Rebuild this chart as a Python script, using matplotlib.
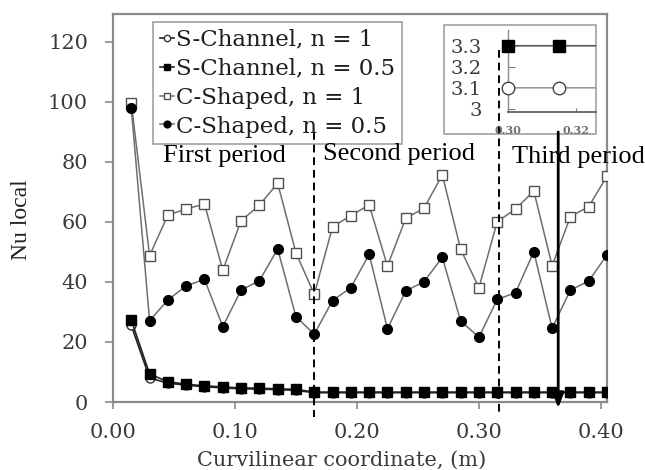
import matplotlib
matplotlib.use("Agg")
import matplotlib.pyplot as plt
from matplotlib.patches import Rectangle
import numpy as np

# ---- data ----
x_m = [0.015, 0.030, 0.045, 0.060, 0.075, 0.090, 0.105, 0.120, 0.135, 0.150,
       0.165, 0.180, 0.195, 0.210, 0.225, 0.240, 0.255, 0.270, 0.285, 0.300,
       0.315, 0.330, 0.345, 0.360, 0.375, 0.390, 0.405]
s_channel_n1 = [25.5, 8.0, 6.3, 5.6, 5.1, 4.7, 4.4, 4.3, 4.1, 3.9,
                3.1, 3.1, 3.1, 3.1, 3.1, 3.1, 3.1, 3.1, 3.1, 3.1,
                3.1, 3.1, 3.1, 3.1, 3.1, 3.1, 3.1]
s_channel_n05 = [27.3, 9.3, 6.8, 5.9, 5.4, 5.0, 4.7, 4.6, 4.4, 4.2,
                 3.3, 3.3, 3.3, 3.3, 3.3, 3.3, 3.3, 3.3, 3.3, 3.3,
                 3.3, 3.3, 3.3, 3.3, 3.3, 3.3, 3.3]
c_shaped_n1 = [99.6, 48.8, 62.3, 64.3, 66.0, 43.9, 60.4, 65.6, 72.9, 49.7,
               35.9, 58.4, 62.1, 65.7, 45.3, 61.2, 64.6, 75.7, 50.9, 38.1,
               60.1, 64.3, 70.3, 45.4, 61.8, 65.1, 75.3]
c_shaped_n05 = [97.9, 27.1, 34.0, 38.7, 40.9, 25.1, 37.3, 40.4, 51.0, 28.4,
                22.6, 33.8, 38.1, 49.2, 24.4, 37.0, 40.1, 48.2, 27.0, 21.6,
                34.2, 36.4, 50.1, 24.6, 37.3, 40.3, 49.0]
labels = ["S-Channel, n = 1", "S-Channel, n = 0.5",
          "C-Shaped, n = 1", "C-Shaped, n = 0.5"]
x_ticks = [0.00, 0.10, 0.20, 0.30, 0.40]
y_ticks = [0, 20, 40, 60, 80, 100, 120]
inset_x_ticks = [0.30, 0.32]
inset_y_ticks = [3.0, 3.1, 3.2, 3.3]
inset_y_labels = ["3", "3.1", "3.2", "3.3"]
period_names = ["First period", "Second period", "Third period"]

W, H = 645, 470
fig = plt.figure(figsize=(W / 100, H / 100), dpi=100)

def fx(px):
    return px / W

def fy(py):
    return 1 - py / H

ax = fig.add_axes([fx(113), fy(402), fx(607) - fx(113), fy(14) - fy(402)])

SER = ["DejaVu Serif"]
TIMES = ["Liberation Serif", "DejaVu Serif"]
tick_col = "#3a3a3a"
spine_col = "#8a8a8a"

# C-shaped
ax.plot(x_m, c_shaped_n1, color="#6e6e6e", lw=1.1, marker="s", ms=6.5,
        mfc="white", mec="#505050", mew=1.0, zorder=3, label=labels[2])
ax.plot(x_m, c_shaped_n05, color="#6e6e6e", lw=1.1, marker="o", ms=7,
        mfc="black", mec="black", zorder=3, label=labels[3])
# S-channel
ax.plot(x_m, s_channel_n1, color="#222222", lw=1.2, marker="o", ms=6.5,
        mfc="white", mec="#333333", mew=1.0, zorder=4, label=labels[0])
ax.plot(x_m, s_channel_n05, color="#222222", lw=1.2, marker="s", ms=7,
        mfc="black", mec="black", zorder=5, label=labels[1])

ax.set_xlim(0, 0.405)
ax.set_ylim(0, 129.3)
ax.set_xticks(x_ticks)
ax.set_xticklabels([f"{v:.2f}" for v in x_ticks])
ax.set_yticks(y_ticks)
for s in ax.spines.values():
    s.set_color(spine_col)
    s.set_linewidth(1.6)
ax.tick_params(axis="both", direction="out", color=spine_col, width=1.2,
               labelcolor=tick_col)
ax.tick_params(axis="y", length=6, pad=12)
ax.tick_params(axis="x", length=5, pad=10)
for t in ax.get_xticklabels() + ax.get_yticklabels():
    t.set_family(SER)
    t.set_fontsize(15)

ax.set_xlabel("Curvilinear coordinate, (m)", family=SER, fontsize=15,
              color=tick_col)
ax.xaxis.set_label_coords((342 - 113) / 494, (402 - 451) / 388)
ax.set_ylabel("Nu local", family=TIMES, fontsize=17, color="#222222")
ax.yaxis.set_label_coords((32 - 113) / 494, (402 - 220) / 388)

# legend
h, l = ax.get_legend_handles_labels()
order = [2, 3, 0, 1]
leg = ax.legend([h[i] for i in order], [l[i] for i in order],
                loc="upper left", bbox_to_anchor=((153 - 113) / 494, (402 - 22) / 388),
                borderaxespad=0, frameon=True, fancybox=False,
                edgecolor="#9a9a9a", handlelength=0.6, handletextpad=0.1,
                borderpad=0.3, labelspacing=0.3, markerscale=0.7,
                prop={"family": SER, "size": 16.5})
leg.get_frame().set_linewidth(1.4)
for t in leg.get_texts():
    t.set_color("#1e1e1e")
leg.set_zorder(6)

# inset frame (drawn in main axes so the separators pass over it)
frame = Rectangle((fx(444), fy(134)), fx(596) - fx(444), fy(25) - fy(134),
                  transform=fig.transFigure, facecolor="white",
                  edgecolor="#a8a8a8", lw=1.3, zorder=6, clip_on=False)
ax.add_patch(frame)

# period separators and arrow
ax.plot([0.165, 0.165], [90, -5], ls=(0, (4, 2.5)), color="black", lw=1.4,
        clip_on=False, zorder=8)
ax.plot([0.3164, 0.3164], [117.3, -3.3], ls=(0, (4, 2.5)), color="black",
        lw=1.4, clip_on=False, zorder=8)
ax.annotate("", xy=(0.365, -2), xytext=(0.365, 90),
            arrowprops=dict(arrowstyle="-|>,head_length=0.9,head_width=0.35",
                            color="black", lw=2.0, shrinkA=0, shrinkB=0),
            annotation_clip=False, zorder=9)

# period text
ax.text(0.041, 80, period_names[0], family=TIMES, fontsize=19, va="baseline",
        ha="left", zorder=7)
ax.text(0.172, 80.8, period_names[1], family=TIMES, fontsize=19, va="baseline",
        ha="left", zorder=7)
ax.text(0.327, 79.7, period_names[2], family=TIMES, fontsize=19, va="baseline",
        ha="left", zorder=7, clip_on=False)

axi = fig.add_axes([fx(508), fy(112), fx(596) - fx(508), fy(30) - fy(112)])
axi.set_zorder(7)
axi.patch.set_alpha(0)
xm = np.array(x_m)
sel = (xm >= 0.2999) & (xm <= 0.326)
axi.plot(x_m, s_channel_n05, color="#555555", lw=1.2, zorder=2)
axi.plot(x_m, s_channel_n1, color="#8a8a8a", lw=1.0, zorder=2)
axi.plot(xm[sel], np.array(s_channel_n05)[sel], ls="none", marker="s", ms=9,
         mfc="black", mec="black", clip_on=False, zorder=3)
axi.plot(xm[sel], np.array(s_channel_n1)[sel], ls="none", marker="o", ms=9,
         mfc="white", mec="#444444", mew=1.0, clip_on=False, zorder=3)
axi.set_xlim(0.30, 0.326)
axi.set_ylim(2.985, 3.375)
axi.spines["top"].set_visible(False)
axi.spines["right"].set_visible(False)
axi.spines["left"].set_color("#8a8a8a")
axi.spines["bottom"].set_color("#555555")
axi.spines["left"].set_linewidth(1.0)
axi.spines["bottom"].set_linewidth(1.2)
axi.set_xticks(inset_x_ticks)
axi.set_xticklabels([f"{v:.2f}" for v in inset_x_ticks])
axi.set_yticks(inset_y_ticks)
axi.set_yticklabels(inset_y_labels)
axi.tick_params(axis="y", direction="in", length=5, color="#777777",
                pad=19, labelcolor=tick_col)
axi.tick_params(axis="x", direction="in", length=3, color="#777777",
                pad=9, labelcolor="#707070")
for t in axi.get_yticklabels():
    t.set_family(SER)
    t.set_fontsize(14)
for t in axi.get_xticklabels():
    t.set_family(SER)
    t.set_fontsize(8)
    t.set_fontweight("bold")

fig.savefig("out.png", dpi=100)
